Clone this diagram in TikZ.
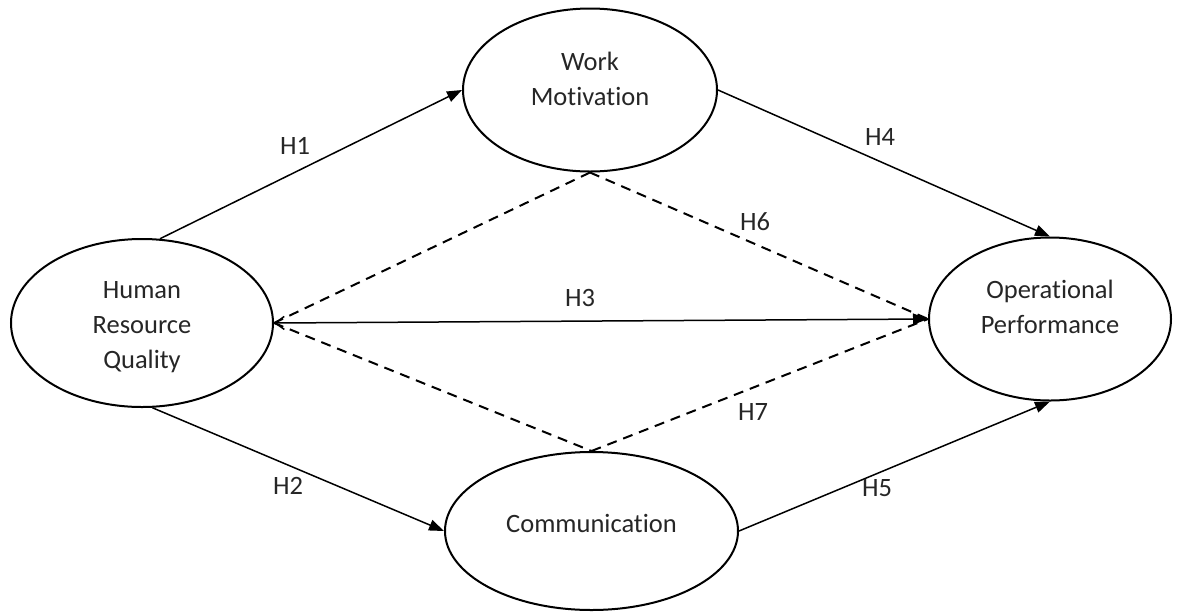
\documentclass[tikz,border=0pt]{standalone}
\usepackage{fontspec}
\setmainfont{Carlito}[Ligatures={NoCommon}]
\usetikzlibrary{shapes.geometric,arrows.meta}
\definecolor{txt}{HTML}{262626}
\tikzset{
  construct/.style={ellipse, draw=black, line width=2pt, inner sep=0pt},
  ctext/.style={align=center, inner sep=0pt, font=\fontsize{26.5}{35}\selectfont, text=txt},
  path/.style={draw=black, line width=1.5pt},
  arr/.style={-{Triangle[length=15pt,width=11pt]}},
  med/.style={path, line width=2pt, dash pattern=on 10pt off 7pt},
  hlab/.style={font=\fontsize{26.5}{35}\selectfont, text=txt, inner sep=0pt},
}
\begin{document}
\begin{tikzpicture}[x=1pt,y=-1pt]
\useasboundingbox (0,0) rectangle (1180,611);
\node[construct, minimum width=262pt, minimum height=168pt] (hrq) at (142,323) {};
\node[construct, minimum width=254pt, minimum height=163pt] (wm) at (590,90) {};
\node[construct, minimum width=293pt, minimum height=158pt] (comm) at (591.5,531) {};
\node[construct, minimum width=242pt, minimum height=163pt] (op) at (1050,319) {};
\node[ctext] (hrqt) at (142,327) {Human\\Resource\\Quality};
\node[ctext] (wmt) at (590,79) {Work\\Motivation};
\node[ctext] (commt) at (591.5,523) {Communication};
\node[ctext] (opt) at (1050,307) {Operational\\Performance};

\draw[path, arr] (hrq.78) -- (wm.west);
\draw[path, arr] (hrq.-83) -- (comm.west);
\draw[path, {Straight Barb[length=9pt,width=13pt]}-{Triangle[length=15pt,width=11pt]}] (hrq.east) -- (op.west);
\draw[path, arr] (wm.east) -- (op.north);
\draw[path, arr] (comm.east) -- (op.south);

\draw[med] (hrq.east) -- (wm.south);
\draw[med] (hrq.east) -- (comm.north);
\draw[med] (wm.south) -- (op.west);
\draw[med] (comm.north) -- (op.west);

\node[hlab] (h1) at (295,146) {H1};
\node[hlab] (h2) at (288,486) {H2};
\node[hlab] (h3) at (580,298) {H3};
\node[hlab] (h4) at (880,137) {H4};
\node[hlab] (h5) at (877,488) {H5};
\node[hlab] (h6) at (755,222) {H6};
\node[hlab] (h7) at (753,412) {H7};
\end{tikzpicture}
\end{document}
